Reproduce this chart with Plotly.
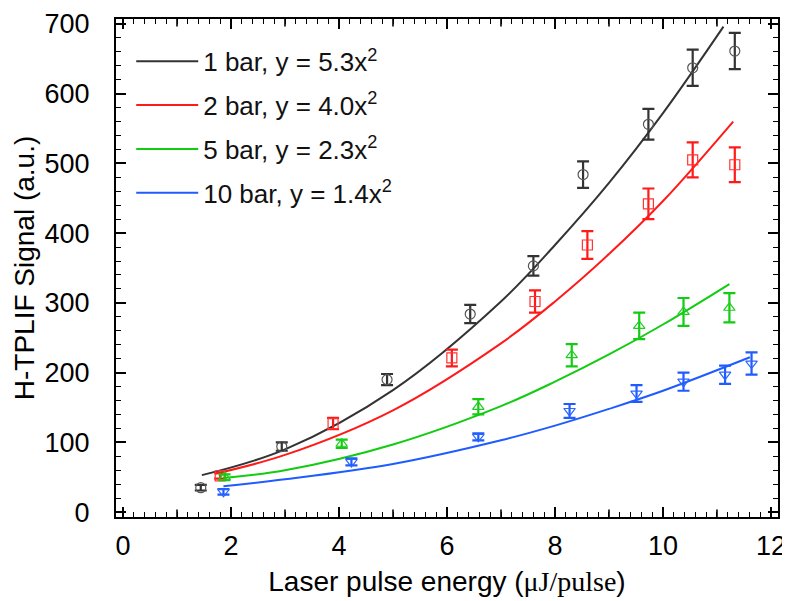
import plotly.graph_objects as go

x_1bar = [1.44, 2.94, 4.89, 6.43, 7.60, 8.52, 9.73, 10.55, 11.33]
y_1bar = [35, 94, 190, 284, 353, 484, 556, 637, 661]
e_1bar = [4, 6, 8, 13, 14, 19, 22, 26, 26]

x_2bar = [1.80, 3.89, 6.09, 7.63, 8.60, 9.73, 10.55, 11.33]
y_2bar = [52, 127, 221, 302, 383, 442, 505, 498]
e_2bar = [4, 8, 12, 16, 20, 22, 25, 25]

x_5bar = [1.88, 4.05, 6.58, 8.31, 9.56, 10.38, 11.23]
y_5bar = [50, 98, 151, 225, 267, 287, 293]
e_5bar = [4, 6, 11, 16, 19, 20, 21]

x_10bar = [1.86, 4.23, 6.58, 8.27, 9.51, 10.38, 11.15, 11.64]
y_10bar = [29, 72, 108, 145, 170, 187, 197, 213]
e_10bar = [4, 5, 5, 10, 12, 13, 13, 16]

# ---- fitted curves ----
fx_1bar = [1.46, 3, 5, 7, 8, 9, 10, 11.12]
fy_1bar = [53, 90, 175, 302, 383, 472, 572, 696]
fx_2bar = [1.70, 3, 5, 7, 8, 9, 10, 11.30]
fy_2bar = [55, 82, 146, 242, 302, 370, 446, 560]
fx_5bar = [1.86, 3, 5, 7, 8, 9, 10, 11.23]
fy_5bar = [49, 60, 97, 152, 187, 226, 269, 327]
fx_10bar = [1.86, 3, 5, 7, 8, 9, 10, 11.61]
fy_10bar = [37, 47, 69, 103, 124, 148, 174, 222]

legend_labels = ["1 bar, y = 5.3x<sup>2</sup>", "2 bar, y = 4.0x<sup>2</sup>",
                 "5 bar, y = 2.3x<sup>2</sup>", "10 bar, y = 1.4x<sup>2</sup>"]
x_ticks = [0, 2, 4, 6, 8, 10, 12]
y_ticks = [0, 100, 200, 300, 400, 500, 600, 700]
x_mid_ticks = [1, 3, 5, 7, 9, 11]

colors = ["#333333", "#ff1a1a", "#11cc11", "#1f5cff"]
marker_colors = ["#555555", "#ff3333", "#22cc22", "#2a66ff"]
symbols = ["circle-open", "square-open", "triangle-up-open", "triangle-down-open"]

data_sets = [(x_1bar, y_1bar, e_1bar), (x_2bar, y_2bar, e_2bar),
             (x_5bar, y_5bar, e_5bar), (x_10bar, y_10bar, e_10bar)]
fit_sets = [(fx_1bar, fy_1bar), (fx_2bar, fy_2bar), (fx_5bar, fy_5bar), (fx_10bar, fy_10bar)]

FONT = "Liberation Sans, Arial, sans-serif"

fig = go.Figure()
for i, ((fx, fy), lab) in enumerate(zip(fit_sets, legend_labels)):
    fig.add_trace(go.Scatter(x=fx, y=fy, mode="lines", name=lab,
                             line=dict(color=colors[i], width=2, shape="spline", smoothing=1.0),
                             legendgroup=f"g{i}", showlegend=True))
for i, (xs, ys, es) in enumerate(data_sets):
    fig.add_trace(go.Scatter(x=xs, y=ys, mode="markers",
                             marker=dict(symbol=symbols[i], size=10, color=marker_colors[i],
                                         line=dict(width=1.2, color=marker_colors[i])),
                             error_y=dict(type="data", array=es, visible=True,
                                          color=colors[i], thickness=2.2, width=6),
                             showlegend=False))

# intermediate x ticks (at odd integers), bottom and top
for xv in x_mid_ticks:
    fig.add_shape(type="line", xref="x", yref="paper", x0=xv, x1=xv, y0=0, y1=0.015,
                  line=dict(color="black", width=1.6))
    fig.add_shape(type="line", xref="x", yref="paper", x0=xv, x1=xv, y0=1, y1=0.985,
                  line=dict(color="black", width=1.6))

# the page body adds an 8 px offset, so the figure is placed with that in mind
fig.update_layout(
    width=790, height=593,
    margin=dict(l=108, r=20, t=11, b=84, autoexpand=False),
    paper_bgcolor="white", plot_bgcolor="white",
    font=dict(family=FONT, color="black", size=26),
    showlegend=True,
    legend=dict(x=0.023, y=0.962, xanchor="left", yanchor="top",
                bgcolor="rgba(0,0,0,0)", borderwidth=0,
                font=dict(family=FONT, size=26, color="#111"),
                itemwidth=62, tracegroupgap=7),
    xaxis=dict(range=[-0.13, 12.13], tickvals=x_ticks, ticks="inside", ticklen=10,
               tickwidth=1.6, tickcolor="black", showline=True, linecolor="black",
               linewidth=2, mirror="allticks", showgrid=False, zeroline=False,
               automargin=False,
               tickfont=dict(size=27, family=FONT), ticklabelstandoff=4,
               minor=dict(dtick=0.2, ticks="inside", ticklen=5, tickwidth=1.4,
                          tickcolor="black", showgrid=False),
               title=dict(text="Laser pulse energy (<span style=\"font-family:'Liberation Serif', 'Times New Roman', serif\">μJ/pulse</span>)",
                          font=dict(size=28, family=FONT), standoff=11)),
    yaxis=dict(range=[-7, 707], tickvals=y_ticks, ticks="inside", ticklen=10,
               tickwidth=1.6, tickcolor="black", showline=True, linecolor="black",
               linewidth=2, mirror="allticks", showgrid=False, zeroline=False,
               automargin=False,
               tickfont=dict(size=27, family=FONT), ticklabelstandoff=19,
               minor=dict(dtick=20, ticks="inside", ticklen=5, tickwidth=1.4,
                          tickcolor="black", showgrid=False),
               title=dict(text="H-TPLIF Signal (a.u.)", font=dict(size=28, family=FONT),
                          standoff=2)),
)

fig.write_html("out.html")
